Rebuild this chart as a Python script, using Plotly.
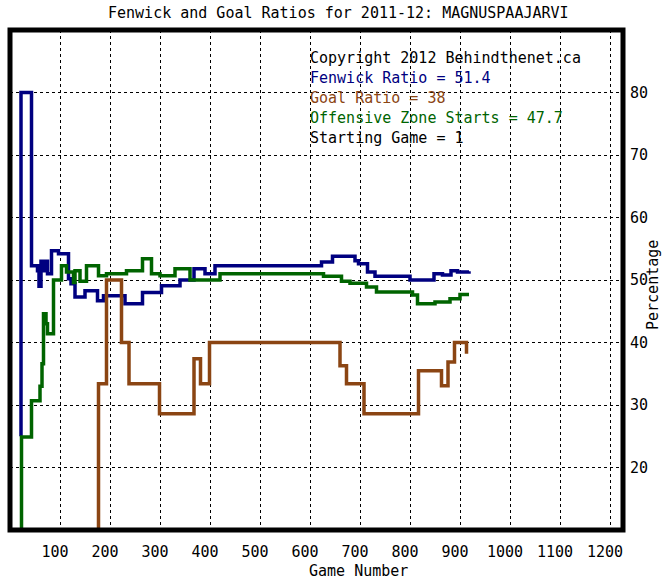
import plotly.graph_objects as go

# Fenwick ratio (navy)
fenwick_games = [20, 22, 43, 55, 58, 62, 66, 70, 75, 83, 97, 117, 122, 130, 150, 175, 187,
                 230, 265, 303, 340, 368, 390, 410, 623, 645, 690, 697, 715, 730, 800,
                 848, 865, 882, 895, 918]
fenwick_vals = [25, 80, 52.3, 51.5, 49.0, 53.0, 51.5, 53.0, 51.0, 54.7, 54.2, 50.2, 49.4, 47.3,
                48.3, 46.7, 47.5, 46.2, 48.0, 49.1, 50.0, 51.8, 51.0, 52.3, 52.9, 53.8, 53.1,
                52.6, 51.3, 50.6, 50.0, 51.0, 50.8, 51.5, 51.3, 51.4]

# Offensive zone starts (green)
ozs_games = [20, 23, 43, 60, 64, 67, 72, 75, 87, 103, 113, 127, 130, 140, 153, 177, 193,
             233, 265, 283, 300, 330, 360, 420, 627, 663, 680, 713, 733, 805, 815, 850,
             880, 900, 918]
ozs_vals = [0, 24.9, 30.7, 33.0, 36.6, 44.6, 43.0, 41.4, 50.0, 52.3, 51.3, 49.6, 51.5, 49.8,
            52.3, 50.7, 51.0, 51.5, 53.4, 51.0, 50.7, 51.8, 50.0, 51.0, 50.6, 49.8, 49.5,
            48.9, 48.1, 47.6, 46.2, 46.5, 47.0, 47.7, 47.7]

# Goal ratio (brown)
goal_games = [175, 177, 193, 223, 238, 299, 368, 381, 399, 660, 673, 708, 817, 863, 876,
              889, 905, 913]
goal_vals = [0, 33.4, 50.0, 40.0, 33.4, 28.6, 37.4, 33.4, 40.0, 36.3, 33.4, 28.6, 35.5,
             33.1, 36.9, 40.0, 40.0, 38.2]

x_ticks = [100, 200, 300, 400, 500, 600, 700, 800, 900, 1000, 1100, 1200]
y_ticks = [20, 30, 40, 50, 60, 70, 80]

info_lines = ["Copyright 2012 Behindthenet.ca", "Fenwick Ratio = 51.4", "Goal Ratio = 38",
              "Offensive Zone Starts = 47.7", "Starting Game = 1"]
info_colors = ["#000000", "#000080", "#8B4513", "#006400", "#000000"]

NAVY = "#000080"
BROWN = "#8B4513"
GREEN = "#006400"
FONT = "DejaVu Sans Mono"

fig = go.Figure()
for xs, ys, col in [(fenwick_games, fenwick_vals, NAVY),
                    (ozs_games, ozs_vals, GREEN),
                    (goal_games, goal_vals, BROWN)]:
    fig.add_trace(go.Scatter(x=xs, y=ys, mode="lines",
                             line=dict(color=col, width=3.5, shape="hv"),
                             hoverinfo="skip", showlegend=False))

W, H = 665, 580
L, R, T, B = 10, 42, 30, 50
pw, ph = W - L - R, H - T - B

def px_x(px):
    return (px - L) / pw

def px_y(py):
    return 1 - (py - T) / ph

annotations = []
for i, (txt, col) in enumerate(zip(info_lines, info_colors)):
    annotations.append(dict(text=txt, x=px_x(308), y=px_y(58 + 20 * i), xref="paper", yref="paper",
                            xanchor="left", yanchor="middle", showarrow=False,
                            font=dict(family=FONT, size=15, color=col)))
annotations.append(dict(text="Game Number", x=px_x(358), y=px_y(571), xref="paper", yref="paper",
                        xanchor="center", yanchor="middle", showarrow=False,
                        font=dict(family=FONT, size=15, color="black")))
annotations.append(dict(text="Percentage", x=px_x(653), y=px_y(285), xref="paper", yref="paper",
                        xanchor="center", yanchor="middle", showarrow=False, textangle=-90,
                        font=dict(family=FONT, size=15, color="black")))
annotations.append(dict(text="Fenwick and Goal Ratios for 2011-12: MAGNUSPAAJARVI",
                        x=px_x(338), y=px_y(13), xref="paper", yref="paper",
                        xanchor="center", yanchor="middle", showarrow=False,
                        font=dict(family=FONT, size=15, color="black")))

fig.update_layout(
    width=W, height=H,
    margin=dict(l=L, r=R, t=T, b=B, pad=0),
    paper_bgcolor="white", plot_bgcolor="white",
    showlegend=False,
    annotations=annotations,
    shapes=[dict(type="rect", xref="paper", yref="paper", x0=0, x1=1, y0=0, y1=1,
                 line=dict(color="black", width=5), layer="above")],
    xaxis=dict(range=[0, 1226], tickvals=x_ticks, ticktext=[str(v) for v in x_ticks],
               showgrid=True, gridcolor="black", gridwidth=1, griddash="dot",
               zeroline=False, showline=False, ticks="outside", ticklen=8,
               ticklabelshift=-5,
               tickcolor="rgba(0,0,0,0)", tickfont=dict(family=FONT, size=15, color="black")),
    yaxis=dict(range=[10, 90], tickvals=y_ticks, side="right",
               showgrid=True, gridcolor="black", gridwidth=1, griddash="dot",
               zeroline=False, showline=False, ticks="outside", ticklen=3,
               tickcolor="rgba(0,0,0,0)", tickfont=dict(family=FONT, size=15, color="black")),
)

fig.write_html("out.html", config={"displayModeBar": False},
               post_script="document.body.style.margin='0px';document.body.style.padding='0px';")
